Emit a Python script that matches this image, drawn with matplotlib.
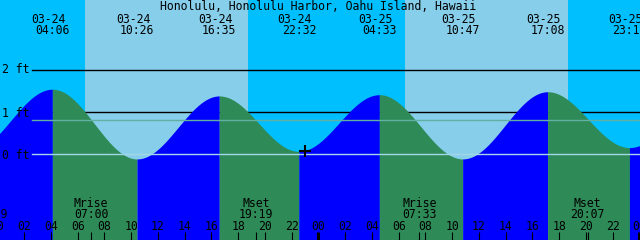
import numpy as np
import matplotlib.pyplot as plt
import matplotlib.transforms as mtransforms

plt.rcParams['font.family'] = ['DejaVu Sans Mono']
plt.rcParams['font.size'] = 8.3

station = 'Honolulu, Honolulu Harbor, Oahu Island, Hawaii'

# tide extremes, hours after 03-24 00:00 and height in ft (first/last are off-screen)
tide_hours = [-2.1, 4.10, 10.43, 16.58, 22.53, 28.55, 34.78, 41.13, 47.25, 53.5]
tide_heights = [0.06, 1.55, -0.11, 1.39, 0.07, 1.42, -0.11, 1.49, 0.16, 1.50]
tide_dates = ['03-24', '03-24', '03-24', '03-24', '03-25', '03-25', '03-25', '03-25']
tide_times = ['04:06', '10:26', '16:35', '22:32', '04:33', '10:47', '17:08', '23:15']

sunrise = [6.54, 30.47]
sunset = [18.73, 42.65]

moon_hours = [7.0, 19.32, 31.55, 44.12]
moon_names = ['Mrise', 'Mset', 'Mrise', 'Mset']
moon_times = ['07:00', '19:19', '07:33', '20:07']
phase_hour = -0.52
phase_time = '23:29'

hour_ticks = list(range(0, 49, 2))
hour_labels = ['%02d' % (h % 24) for h in hour_ticks]

depth_lines = [2, 1]
depth_labels = ['2 ft', '1 ft', '0 ft']
msl = 0.81
now_hour, now_height = 23.0, 0.09

# colours
night = '#00bfff'
day = '#87ceeb'
rising = '#0000ff'
falling = '#2e8b57'

fig = plt.figure(figsize=(6.4, 2.4), dpi=100, facecolor=night)
ax = fig.add_axes([0, 0, 1, 1])
ax.axis('off')
ax.set_xlim(0.187, 48.04)
ax.set_ylim(-2.04, 3.674)
tr = mtransforms.blended_transform_factory(ax.transData, ax.transAxes)

def py(p):
    # pixel row -> axes fraction
    return 1 - p / 240.0

for a, b in zip(sunrise, sunset):
    ax.axvspan(a, b, color=day, lw=0, zorder=0)

for y in depth_lines:
    ax.axhline(y, xmin=32 / 640, color='black', lw=1, zorder=1)

# water, half-cosine between successive extremes
for i in range(len(tide_hours) - 1):
    t0, t1 = tide_hours[i], tide_hours[i + 1]
    h0, h1 = tide_heights[i], tide_heights[i + 1]
    ts = np.linspace(t0, t1, 120)
    hs = h0 + (h1 - h0) * (1 - np.cos(np.pi * (ts - t0) / (t1 - t0))) / 2
    col = rising if h1 > h0 else falling
    ax.fill_between(ts, hs, -3, color=col, lw=0, zorder=2)

ax.axhline(msl, xmin=32 / 640, color='#62b0a2', lw=1, zorder=3)
ax.axhline(0, xmin=32 / 640, color='#a4d6e6', lw=1, zorder=3)

ax.plot(now_hour, now_height, marker='+', color='black', ms=8, mew=1.5, zorder=4)

ax.text(0.497, py(10), station, transform=ax.transAxes, ha='center', va='baseline')
for t, d, s in zip(tide_hours[1:-1], tide_dates, tide_times):
    ax.text(t - 0.3, py(23), d, transform=tr, ha='center', va='baseline')
    ax.text(t, py(34), s, transform=tr, ha='center', va='baseline')

for lab, p in zip(depth_labels, [73.3, 116.7, 158.7]):
    ax.text(2 / 640, py(p), lab, transform=ax.transAxes, ha='left', va='baseline', zorder=5)

for t, n, s in zip(moon_hours, moon_names, moon_times):
    ax.text(t, py(206.7), n, transform=tr, ha='center', va='baseline', zorder=5)
    ax.text(t, py(218.3), s, transform=tr, ha='center', va='baseline', zorder=5)
ax.text(phase_hour, py(218.3), phase_time, transform=tr, ha='center', va='baseline', zorder=5)

for h, lab in zip(hour_ticks, hour_labels):
    ax.text(h, py(230), lab, transform=tr, ha='center', va='baseline', zorder=5)
    ax.vlines(h, 0, 8 / 240, transform=tr, color='black', lw=2.2 if h % 24 == 0 else 0.8, zorder=5)
ax.vlines(moon_hours, 0, 8 / 240, transform=tr, color='black', lw=0.8, zorder=5)

plt.savefig('out.png', dpi=100, facecolor=night)
